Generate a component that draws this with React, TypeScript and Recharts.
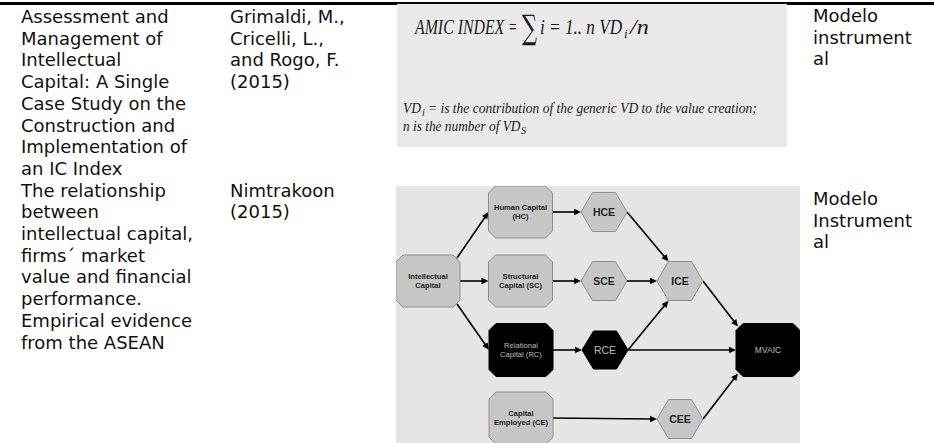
import React from "react";
import { ReferenceLine, Scatter, ScatterChart, XAxis, YAxis } from "recharts";

// table text, one entry per printed line
const titleRow1 = [
  "Assessment and",
  "Management of",
  "Intellectual",
  "Capital: A Single",
  "Case Study on the",
  "Construction and",
  "Implementation of",
  "an IC Index",
];
const titleRow2 = [
  "The relationship",
  "between",
  "intellectual capital,",
  "firms\u00b4 market",
  "value and financial",
  "performance.",
  "Empirical evidence",
  "from the ASEAN",
];
const authorsRow1 = ["Grimaldi, M.,", "Cricelli, L.,", "and Rogo, F.", "(2015)"];
const authorsRow2 = ["Nimtrakoon", "(2015)"];
const typeRow1 = ["Modelo", "instrument", "al"];
const typeRow2 = ["Modelo", "Instrument", "al"];

// diagram nodes (diagram units, origin top-left of the figure)
const nodeIds = ["IC", "HC", "HCE", "SC", "SCE", "ICE", "RC", "RCE", "MVAIC", "CE", "CEE"];
const nodeLabels = [
  "Intellectual\nCapital",
  "Human Capital\n(HC)",
  "HCE",
  "Structural\nCapital (SC)",
  "SCE",
  "ICE",
  "Relational\nCapital (RC)",
  "RCE",
  "MVAIC",
  "Capital\nEmployed (CE)",
  "CEE",
];
const nodeX = [32, 124.5, 208, 124.5, 208, 284, 125, 209, 372, 125, 284];
const nodeY = [95, 26, 26, 95, 95, 95, 164, 164, 164, 232, 233];
const nodeKind = ["box", "box", "hex", "box", "hex", "hex", "boxDark", "hexDark", "boxDark", "box", "hex"];

// arrows: from node/anchor -> to node/anchor
const edgeFrom = ["IC:tr", "IC:r", "IC:br", "HC:r", "SC:r", "RC:r", "CE:r", "HCE:r", "SCE:r", "RCE:r", "RCE:r", "ICE:r", "CEE:r"];
const edgeTo = ["HC:l", "SC:l", "RC:l", "HCE:l", "SCE:l", "RCE:l", "CEE:l", "ICE:tl", "ICE:l", "ICE:bl", "MVAIC:l", "MVAIC:tl", "MVAIC:bl"];

const SIZE: Record<string, { w: number; h: number }> = {
  box: { w: 64, h: 52 },
  boxDark: { w: 64, h: 53 },
  hex: { w: 46, h: 39 },
  hexDark: { w: 46, h: 38 },
};

const nodes = nodeIds.map((id, i) => ({
  id,
  x: nodeX[i],
  y: nodeY[i],
  label: nodeLabels[i],
  kind: nodeKind[i],
}));

function anchor(ref: string) {
  const [id, side] = ref.split(":");
  const n = nodes.find((d) => d.id === id)!;
  const { w, h } = SIZE[n.kind];
  const hw = w / 2;
  const hh = h / 2;
  const isHex = n.kind.startsWith("hex");
  switch (side) {
    case "l":
      return { x: n.x - hw, y: n.y };
    case "r":
      return { x: n.x + hw, y: n.y };
    case "tr":
      return { x: n.x + hw - 3, y: n.y - hh + 3 };
    case "br":
      return { x: n.x + hw - 3, y: n.y + hh - 3 };
    case "tl":
      return isHex ? { x: n.x - hw / 2, y: n.y - hh } : { x: n.x - hw + 2, y: n.y - hh + 3 };
    case "bl":
      return isHex ? { x: n.x - hw / 2, y: n.y + hh } : { x: n.x - hw + 2, y: n.y + hh - 3 };
    default:
      return { x: n.x, y: n.y };
  }
}

const edges = edgeFrom.map((f, i) => [anchor(f), anchor(edgeTo[i])]);

function Arrow(p: any) {
  const { x1, y1, x2, y2 } = p;
  const ang = Math.atan2(y2 - y1, x2 - x1);
  const L = 7;
  const W = 3.2;
  const c = Math.cos(ang);
  const s = Math.sin(ang);
  const bx = x2 - L * c;
  const by = y2 - L * s;
  return (
    <g>
      <line x1={x1} y1={y1} x2={bx + c} y2={by + s} stroke="#000" strokeWidth={1.6} />
      <polygon points={`${x2},${y2} ${bx + W * s},${by - W * c} ${bx - W * s},${by + W * c}`} fill="#000" />
    </g>
  );
}

function NodeShape(p: any) {
  const { cx, cy, payload } = p;
  const { w, h } = SIZE[payload.kind];
  const hw = w / 2;
  const hh = h / 2;
  const dark = payload.kind.endsWith("Dark");
  const isHex = payload.kind.startsWith("hex");
  let pts: string;
  if (isHex) {
    pts = [
      [cx - hw, cy],
      [cx - hw / 2, cy - hh],
      [cx + hw / 2, cy - hh],
      [cx + hw, cy],
      [cx + hw / 2, cy + hh],
      [cx - hw / 2, cy + hh],
    ]
      .map((q) => q.join(","))
      .join(" ");
  } else {
    const k = 7;
    pts = [
      [cx - hw + k, cy - hh],
      [cx + hw - k, cy - hh],
      [cx + hw, cy - hh + k],
      [cx + hw, cy + hh - k],
      [cx + hw - k, cy + hh],
      [cx - hw + k, cy + hh],
      [cx - hw, cy + hh - k],
      [cx - hw, cy - hh + k],
    ]
      .map((q) => q.join(","))
      .join(" ");
  }
  const lines: string[] = payload.label.split("\n");
  const big = lines.length === 1;
  const fs = big ? (isHex ? 10.5 : 8.5) : 7.6;
  return (
    <g>
      <polygon points={pts} fill={dark ? "#000" : "#c6c6c6"} stroke={dark ? "#000" : "#8e8e8e"} strokeWidth={1} />
      {lines.map((t, i) => (
        <text
          key={i}
          x={cx}
          y={cy + (i - (lines.length - 1) / 2) * 9 + fs * 0.36}
          textAnchor="middle"
          fontFamily="'Liberation Sans', Arial, sans-serif"
          fontSize={fs}
          fontWeight={dark ? 400 : 700}
          fill={dark ? "#bdbdbd" : "#222"}
        >
          {t}
        </text>
      ))}
    </g>
  );
}

const textStyle: React.CSSProperties = {
  position: "absolute",
  fontFamily: "'DejaVu Sans', Verdana, sans-serif",
  fontSize: 18,
  lineHeight: "21.7px",
  color: "#111",
  whiteSpace: "pre",
};

function Lines({ lines, left, top }: { lines: string[]; left: number; top: number }) {
  return (
    <div style={{ ...textStyle, left, top }}>
      {lines.map((l, i) => (
        <div key={i}>{l}</div>
      ))}
    </div>
  );
}

const serif = "'Liberation Serif', 'DejaVu Serif', serif";

// one formula glyph run, squeezed horizontally to the width of the printed face
function Run({ x, y, sx, size, children, upright, family }: any) {
  return (
    <text
      transform={`translate(${x},${y}) scale(${sx},1)`}
      fontSize={size}
      fontStyle={upright ? "normal" : "italic"}
      fontFamily={family ?? serif}
    >
      {children}
    </text>
  );
}

function Formula() {
  return (
    <svg width={390} height={143} style={{ position: "absolute", left: 397, top: 4 }}>
      <rect x={0} y={0} width={390} height={143} fill="#e9e9e9" />
      <g fill="#1a1a1a">
        <Run x={18} y={30} sx={0.72} size={22}>AMIC INDEX</Run>
        <Run x={112} y={30} sx={0.6} size={22} upright>=</Run>
        <Run x={125} y={35} sx={0.62} size={34} upright family="'DejaVu Serif', serif">∑</Run>
        <Run x={143} y={30} sx={0.78} size={22}>i = 1.. n VD</Run>
        <Run x={227} y={34} sx={1} size={13}>i</Run>
        <Run x={233} y={30} sx={1.1} size={22}>/n</Run>

        <Run x={6} y={109} sx={0.9} size={15}>VD</Run>
        <Run x={25} y={112} sx={1} size={10}>i</Run>
        <Run x={31} y={109} sx={0.9} size={15}>= is the contribution of the generic VD to the value creation;</Run>
        <Run x={6} y={127} sx={0.89} size={15}>n is the number of VD</Run>
        <Run x={124} y={130} sx={1} size={10}>S</Run>
      </g>
    </svg>
  );
}

export default function App() {
  return (
    <div style={{ position: "absolute", left: 0, top: 0, width: 934, height: 443, background: "#fff", overflow: "hidden" }}>
      <div style={{ position: "absolute", left: 0, top: 2, width: 934, height: 3, background: "#000" }} />
      <Lines lines={titleRow1} left={21} top={6} />
      <Lines lines={titleRow2} left={21} top={6 + 8 * 21.7} />
      <Lines lines={authorsRow1} left={230} top={6} />
      <Lines lines={authorsRow2} left={230} top={6 + 8 * 21.7} />
      <Lines lines={typeRow1} left={813} top={5} />
      <Lines lines={typeRow2} left={813} top={188} />
      <Formula />
      <div style={{ position: "absolute", left: 396, top: 186 }}>
        <ScatterChart width={404} height={258} margin={{ top: 0, right: 0, bottom: 0, left: 0 }} style={{ background: "#e5e5e5" }}>
          <XAxis type="number" dataKey="x" domain={[0, 404]} hide />
          <YAxis type="number" dataKey="y" domain={[0, 258]} reversed hide />
          {edges.map(([a, b], i) => (
            <ReferenceLine key={i} segment={[a, b]} shape={Arrow} ifOverflow="visible" />
          ))}
          <Scatter data={nodes} shape={NodeShape} isAnimationActive={false} />
        </ScatterChart>
      </div>
    </div>
  );
}
